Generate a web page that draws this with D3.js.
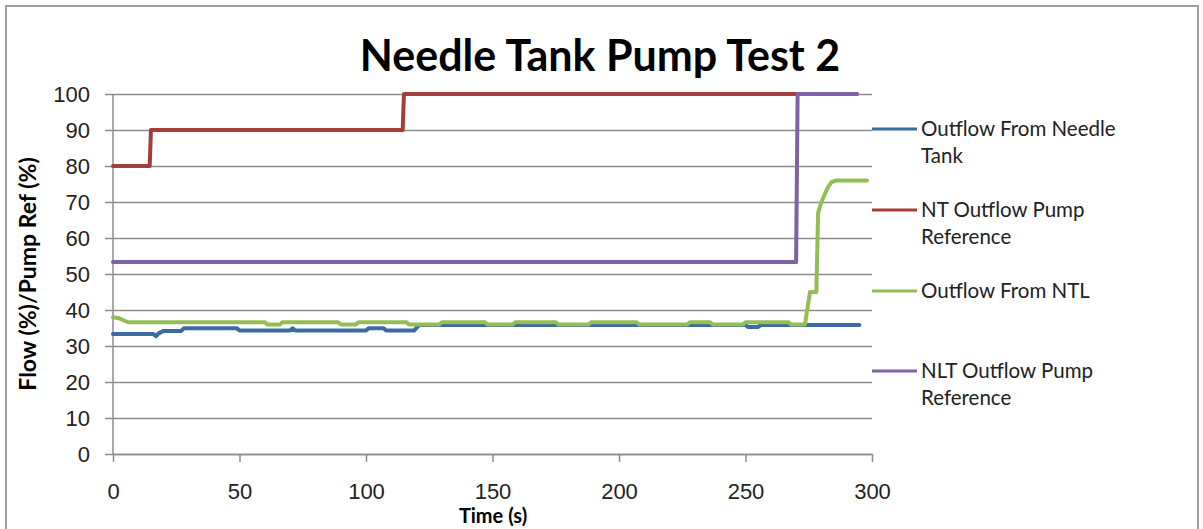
<!DOCTYPE html>
<html>
<head>
<meta charset="utf-8">
<script src="https://cdn.jsdelivr.net/npm/d3@7"></script>
<style>
  body { margin: 0; background: #fff; }
  svg { display: block; font-family: Lato, "Open Sans", sans-serif; }
</style>
</head>
<body>
<svg id="chart"></svg>
<script>
// chart size
const W = 1203, H = 529;

// ---- data (time in s, value in %) ----
const titleText = "Needle Tank Pump Test 2";
const xTicks = [0, 50, 100, 150, 200, 250, 300];
const yTicks = [0, 10, 20, 30, 40, 50, 60, 70, 80, 90, 100];

const outflowNeedleT = [0, 16, 17, 18, 20, 27, 28, 49, 50, 70, 71, 72, 100, 101, 107, 108, 119, 121, 250, 251, 255, 256, 295];
const outflowNeedleV = [33.3, 33.3, 32.7, 33.5, 34.2, 34.2, 34.9, 34.9, 34.3, 34.3, 34.9, 34.3, 34.3, 34.9, 34.9, 34.3, 34.3, 35.8, 35.8, 35.3, 35.3, 35.8, 35.8];

const ntPumpRefT = [0, 14.5, 15, 114.5, 115, 294];
const ntPumpRefV = [80, 80, 90, 90, 100, 100];

const outflowNtlT = [0, 2, 6, 60, 61, 66, 67, 89, 90, 96, 97, 116, 117, 129, 130, 147, 148, 158, 159, 175, 176, 188, 189, 207, 208, 227, 228, 236, 237, 249, 250, 267, 268, 273.5, 275.5, 278, 278.7, 280, 282.5, 284, 286, 298];
const outflowNtlV = [38.0, 37.8, 36.6, 36.6, 36.0, 36.0, 36.6, 36.6, 36.0, 36.0, 36.6, 36.6, 36.0, 36.0, 36.6, 36.6, 36.0, 36.0, 36.6, 36.6, 36.0, 36.0, 36.6, 36.6, 36.0, 36.0, 36.6, 36.6, 36.0, 36.0, 36.6, 36.6, 36.0, 36.0, 45, 45, 67, 70, 74, 75.5, 76, 76];

const nltPumpRefT = [0, 270, 270.6, 294];
const nltPumpRefV = [53.3, 53.3, 100, 100];

const seriesNames = [["Outflow From Needle", "Tank"], ["NT Outflow Pump", "Reference"], ["Outflow From NTL"], ["NLT Outflow Pump", "Reference"]];
const seriesColors = ["#3d6aa3", "#a53e3b", "#95bd55", "#7f61a5"];

const series = [
  { t: outflowNeedleT, v: outflowNeedleV },
  { t: ntPumpRefT, v: ntPumpRefV },
  { t: outflowNtlT, v: outflowNtlV },
  { t: nltPumpRefT, v: nltPumpRefV }
];

const svg = d3.select("#chart").attr("width", W).attr("height", H);

// outer frame
svg.append("rect")
  .attr("x", 6).attr("y", 6)
  .attr("width", 1192).attr("height", 600)
  .attr("fill", "#fff")
  .attr("stroke", "#a0a0a0")
  .attr("stroke-width", 2);

const plot = { left: 113, right: 872, top: 94, bottom: 454 };

const x = d3.scaleLinear().domain([0, 300]).range([plot.left, plot.right]);
const y = d3.scaleLinear().domain([0, 100]).range([plot.bottom, plot.top]);

// horizontal grid + y ticks
svg.append("g")
  .attr("transform", `translate(${plot.left},0)`)
  .call(d3.axisLeft(y).tickValues(yTicks).tickSize(-(plot.right - plot.left)).tickSizeOuter(0).tickPadding(23))
  .call(g => g.select(".domain").remove())
  .call(g => g.selectAll(".tick line").attr("stroke", "#8c8c8c").attr("stroke-width", 1.5).attr("x1", -8))
  .call(g => g.selectAll(".tick text").attr("font-size", 22).attr("fill", "#222"));

// y axis line
svg.append("line")
  .attr("x1", plot.left).attr("x2", plot.left)
  .attr("y1", plot.top).attr("y2", plot.bottom)
  .attr("stroke", "#8c8c8c").attr("stroke-width", 1.5);

// x axis
svg.append("g")
  .attr("transform", `translate(0,${plot.bottom})`)
  .call(d3.axisBottom(x).tickValues(xTicks).tickSize(8).tickSizeOuter(0).tickPadding(21))
  .call(g => g.select(".domain").attr("stroke", "#8c8c8c").attr("stroke-width", 1.5))
  .call(g => g.selectAll(".tick line").attr("stroke", "#8c8c8c").attr("stroke-width", 1.5))
  .call(g => g.selectAll(".tick text").attr("font-size", 22).attr("fill", "#222"));

// series lines
const line = d3.line().x(d => x(d[0])).y(d => y(d[1]));
series.forEach((s, i) => {
  svg.append("path")
    .datum(s.t.map((t, j) => [t, s.v[j]]))
    .attr("d", line)
    .attr("fill", "none")
    .attr("stroke", seriesColors[i])
    .attr("stroke-width", 4)
    .attr("stroke-linejoin", "round")
    .attr("stroke-linecap", "round");
});

// title
svg.append("text")
  .attr("x", 600).attr("y", 71)
  .attr("text-anchor", "middle")
  .attr("font-size", 43).attr("font-weight", "bold")
  .attr("fill", "#000")
  .text(titleText);

// axis titles
svg.append("text")
  .attr("x", 493).attr("y", 523)
  .attr("text-anchor", "middle")
  .attr("font-size", 20).attr("font-weight", "bold")
  .text("Time (s)");

svg.append("text")
  .attr("transform", "translate(36,274) rotate(-90)")
  .attr("text-anchor", "middle")
  .attr("font-size", 23).attr("font-weight", "bold")
  .text("Flow (%)/Pump Ref (%)");

// legend
const legendY = [129, 210, 291, 371];
const legend = svg.append("g");
seriesNames.forEach((name, i) => {
  const item = legend.append("g").attr("transform", `translate(872,${legendY[i]})`);
  item.append("line")
    .attr("x1", 0).attr("x2", 45)
    .attr("stroke", seriesColors[i]).attr("stroke-width", 3);
  name.forEach((ln, k) => {
    item.append("text")
      .attr("x", 49).attr("y", 7 + k * 27)
      .attr("font-size", 20.5).attr("fill", "#222")
      .text(ln);
  });
});
</script>
</body>
</html>
